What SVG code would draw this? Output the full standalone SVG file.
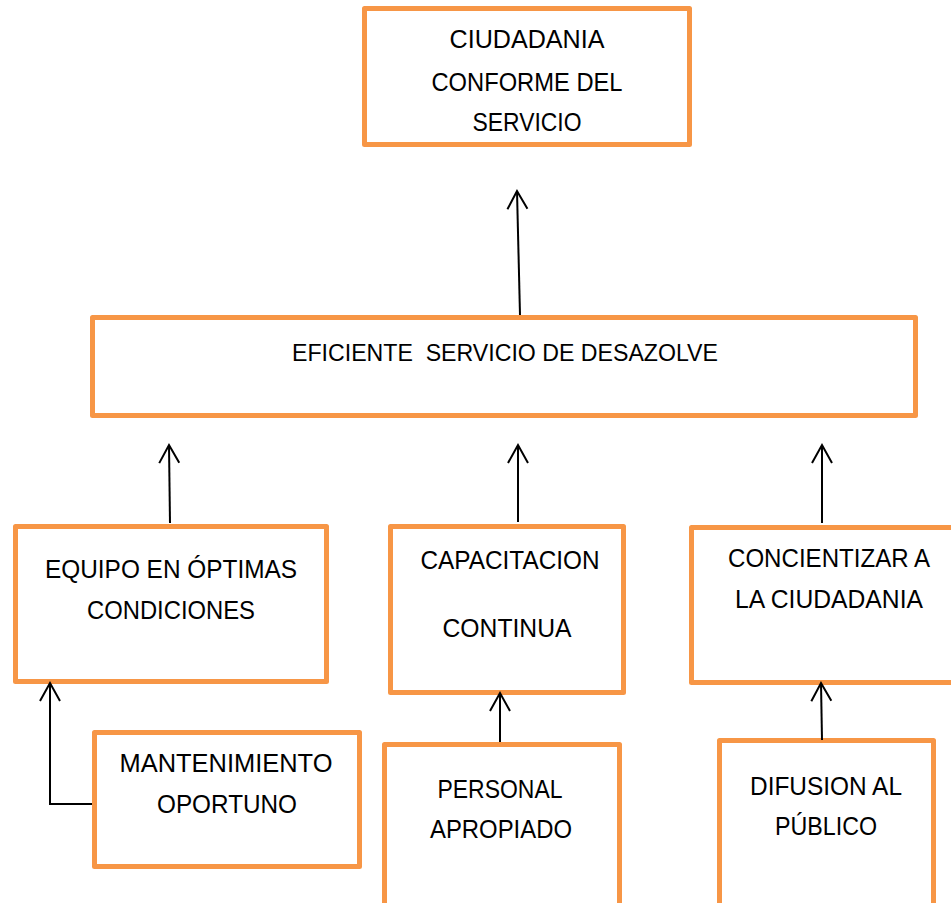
<svg xmlns="http://www.w3.org/2000/svg" width="951" height="903" viewBox="0 0 951 903">
<style>
.box{fill:#fff;stroke:#F79646;stroke-width:5;stroke-linejoin:round}
.t{font-family:"Liberation Sans",Arial,sans-serif;font-size:25px;fill:#000;text-anchor:middle}
.c{fill:none;stroke:#000;stroke-width:2}
</style>
<defs>
<marker id="arr" markerUnits="userSpaceOnUse" markerWidth="24" markerHeight="24" viewBox="-20 -12 24 24" refX="0" refY="0" orient="auto">
<path d="M-18,-10 L0,0 L-18,10" fill="none" stroke="#000" stroke-width="2"/>
</marker>
</defs>
<rect width="951" height="903" fill="#fff"/>
<g id="n-ciudadania">
<rect class="box" x="364.5" y="8.5" width="325" height="136"/>
<text class="t" x="527" y="48" textLength="155" lengthAdjust="spacingAndGlyphs">CIUDADANIA</text>
<text class="t" x="527" y="91" textLength="191" lengthAdjust="spacingAndGlyphs">CONFORME DEL</text>
<text class="t" x="527" y="131" textLength="109" lengthAdjust="spacingAndGlyphs">SERVICIO</text>
</g>
<g id="n-eficiente">
<rect class="box" x="92.5" y="317.5" width="823" height="98"/>
<text class="t" x="505" y="361" textLength="426" lengthAdjust="spacingAndGlyphs" style="font-size:24px" xml:space="preserve">EFICIENTE  SERVICIO DE DESAZOLVE</text>
</g>
<g id="n-equipo">
<rect class="box" x="15.5" y="526.5" width="311" height="155"/>
<text class="t" x="171" y="578" textLength="252" lengthAdjust="spacingAndGlyphs">EQUIPO EN ÓPTIMAS</text>
<text class="t" x="171" y="619" textLength="168" lengthAdjust="spacingAndGlyphs">CONDICIONES</text>
</g>
<g id="n-capacitacion">
<rect class="box" x="390.5" y="526.5" width="233" height="166"/>
<text class="t" x="510" y="569" textLength="179" lengthAdjust="spacingAndGlyphs">CAPACITACION</text>
<text class="t" x="507" y="637" textLength="129" lengthAdjust="spacingAndGlyphs">CONTINUA</text>
</g>
<g id="n-concientizar">
<rect class="box" x="691.5" y="527.5" width="270" height="155"/>
<text class="t" x="829" y="567" textLength="202" lengthAdjust="spacingAndGlyphs">CONCIENTIZAR A</text>
<text class="t" x="829" y="608" textLength="188" lengthAdjust="spacingAndGlyphs">LA CIUDADANIA</text>
</g>
<g id="n-mantenimiento">
<rect class="box" x="94.5" y="732.5" width="265" height="134"/>
<text class="t" x="226" y="772" textLength="213" lengthAdjust="spacingAndGlyphs">MANTENIMIENTO</text>
<text class="t" x="227" y="813" textLength="140" lengthAdjust="spacingAndGlyphs">OPORTUNO</text>
</g>
<g id="n-personal">
<rect class="box" x="384.5" y="744.5" width="235" height="200"/>
<text class="t" x="500" y="798" textLength="125" lengthAdjust="spacingAndGlyphs">PERSONAL</text>
<text class="t" x="501" y="838" textLength="142" lengthAdjust="spacingAndGlyphs">APROPIADO</text>
</g>
<g id="n-difusion">
<rect class="box" x="719.5" y="740.5" width="214" height="200"/>
<text class="t" x="826" y="795" textLength="152" lengthAdjust="spacingAndGlyphs">DIFUSION AL</text>
<text class="t" x="826" y="835" textLength="102" lengthAdjust="spacingAndGlyphs">PÚBLICO</text>
</g>
<g id="connectors">
<path class="c" d="M520,315 L517,191" marker-end="url(#arr)"/>
<path class="c" d="M170,523 L169,445" marker-end="url(#arr)"/>
<path class="c" d="M518,522 L518,445" marker-end="url(#arr)"/>
<path class="c" d="M822,523 L822,445" marker-end="url(#arr)"/>
<path class="c" d="M92,804 L50,804 L50,683" marker-end="url(#arr)"/>
<path class="c" d="M500,742 L500,693" marker-end="url(#arr)"/>
<path class="c" d="M822,740 L821,683" marker-end="url(#arr)"/>
</g>
</svg>
